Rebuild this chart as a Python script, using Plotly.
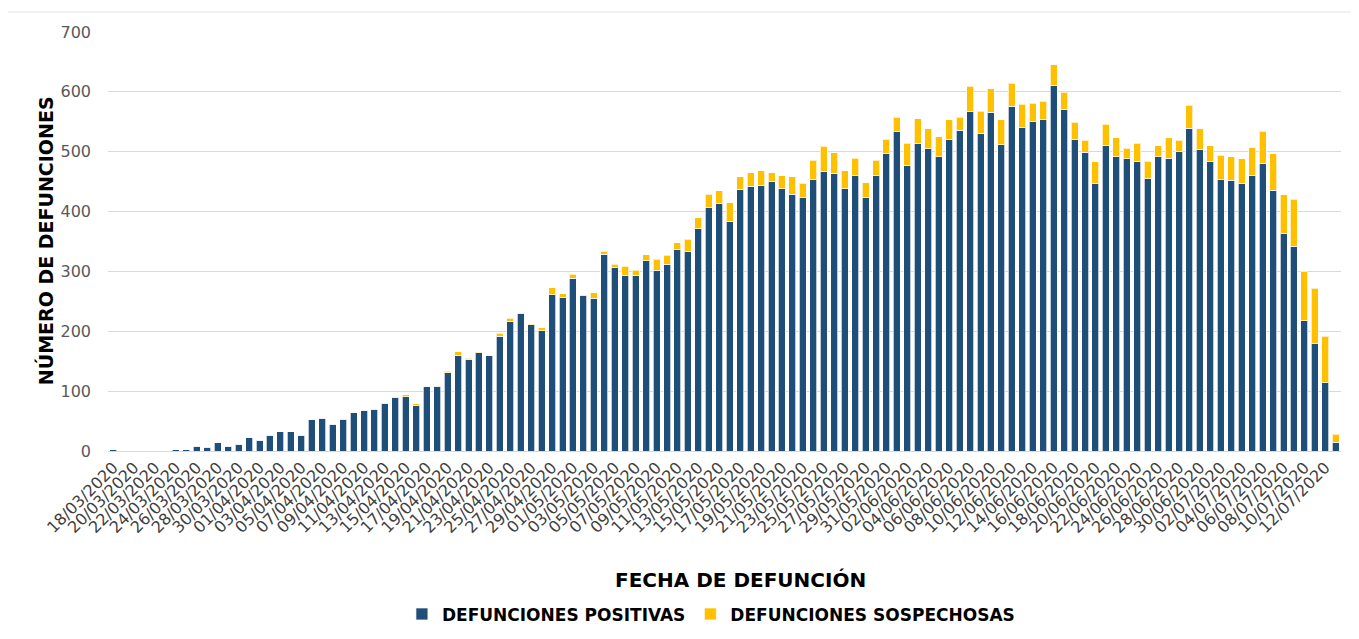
import pandas as pd
import plotly.graph_objects as go

# fechas de defunción (18/03/2020 - 13/07/2020)
fechas = pd.date_range("2020-03-18", "2020-07-13", freq="D").strftime("%d/%m/%Y").tolist()

positivas = [
    2, 0, 0, 0, 0, 0, 2, 2, 8, 6,
    14, 8, 11, 22, 18, 26, 32, 32, 26, 52,
    55, 45, 52, 64, 68, 70, 79, 89, 91, 76,
    107, 108, 131, 160, 153, 164, 159, 192, 217, 230,
    211, 201, 261, 257, 289, 259, 255, 329, 307, 294,
    294, 318, 302, 312, 336, 334, 371, 406, 414, 384,
    437, 442, 444, 451, 438, 429, 423, 453, 467, 464,
    438, 460, 423, 460, 497, 533, 477, 513, 505, 492,
    520, 536, 568, 531, 566, 512, 576, 540, 551, 553,
    611, 571, 521, 499, 447, 510, 492, 488, 484, 455,
    492, 489, 500, 539, 503, 484, 453, 452, 447, 460,
    481, 436, 363, 342, 218, 179, 114, 15,
]

sospechosas = [
    0, 0, 0, 0, 0, 0, 0, 0, 0, 0,
    0, 0, 0, 0, 0, 0, 0, 0, 0, 0,
    0, 0, 2, 0, 0, 0, 1, 2, 3, 3,
    0, 0, 2, 6, 2, 1, 0, 5, 5, 1,
    1, 5, 12, 6, 6, 1, 9, 5, 5, 15,
    8, 10, 18, 15, 12, 20, 19, 23, 21, 31,
    21, 23, 24, 14, 22, 29, 24, 33, 42, 34,
    30, 29, 25, 26, 24, 25, 37, 42, 33, 33,
    33, 22, 41, 37, 39, 41, 38, 39, 30, 31,
    34, 28, 28, 20, 36, 36, 31, 18, 30, 29,
    18, 34, 19, 39, 35, 26, 41, 40, 41, 47,
    53, 61, 65, 79, 82, 93, 78, 13,
]

AZUL = "#1F4E79"
AMARILLO = "#FFC000"
FUENTE = "DejaVu Sans"

fig = go.Figure()

fig.add_trace(go.Bar(
    x=fechas,
    y=positivas,
    name="DEFUNCIONES POSITIVAS",
    marker=dict(color=AZUL, line=dict(color="rgba(255,255,255,0.7)", width=1)),
))

fig.add_trace(go.Bar(
    x=fechas,
    y=sospechosas,
    name="DEFUNCIONES SOSPECHOSAS",
    marker=dict(color=AMARILLO, line=dict(color="rgba(255,255,255,0.7)", width=1)),
))

# la página añade 8 px de margen al cuerpo: se compensa aquí
fig.update_layout(
    barmode="stack",
    bargap=0.33,
    width=1351,
    height=631,
    margin=dict(l=100, r=18, t=24, b=188, autoexpand=False),
    plot_bgcolor="white",
    paper_bgcolor="white",
    font=dict(family=FUENTE, color="#595959"),
    showlegend=True,
    legend=dict(
        orientation="h",
        x=0.489,
        xanchor="center",
        y=-0.39,
        yanchor="middle",
        font=dict(size=17, color="black", family=FUENTE, weight="bold"),
        itemwidth=30,
        traceorder="normal",
    ),
    xaxis=dict(
        type="category",
        tickmode="array",
        tickvals=fechas[::2],
        ticktext=fechas[::2],
        tickangle=-45,
        tickfont=dict(size=16, color="#404040"),
        showgrid=False,
        showline=True,
        linecolor="#D9D9D9",
        linewidth=1,
        ticks="",
    ),
    yaxis=dict(
        range=[0, 700],
        dtick=100,
        showgrid=True,
        gridcolor="#D9D9D9",
        gridwidth=1,
        zeroline=False,
        tickfont=dict(size=16, color="#595959"),
        ticks="",
        ticklabelstandoff=16,
    ),
)

# títulos de ejes
fig.add_annotation(
    text="FECHA DE DEFUNCIÓN",
    xref="paper", yref="paper",
    x=0.513, y=-0.309,
    xanchor="center", yanchor="middle",
    showarrow=False,
    font=dict(size=20, color="black", family=FUENTE, weight="bold"),
)
fig.add_annotation(
    text="NÚMERO DE DEFUNCIONES",
    xref="paper", yref="paper",
    x=-0.051, y=0.501,
    xanchor="center", yanchor="middle",
    textangle=-90,
    showarrow=False,
    font=dict(size=19, color="black", family=FUENTE, weight="bold"),
)

# línea superior del área del gráfico
fig.add_shape(
    type="line",
    xref="paper", yref="paper",
    x0=-0.081, x1=1.014, y0=1.0477, y1=1.0477,
    line=dict(color="#E3E3E3", width=1),
)

fig.write_html("out.html")
